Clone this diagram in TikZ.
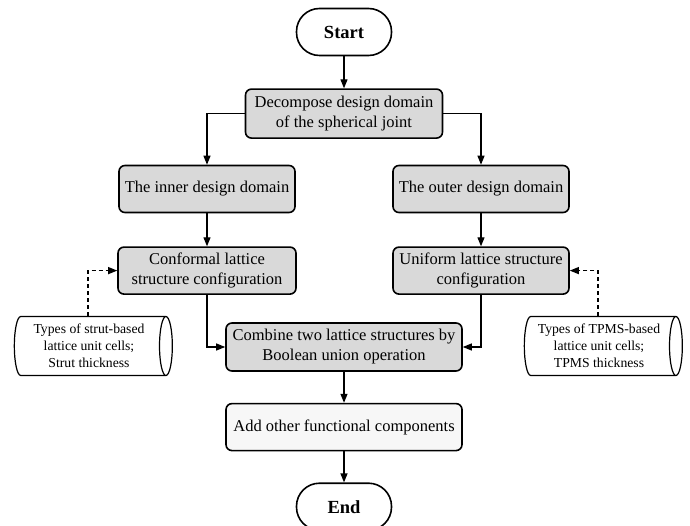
\documentclass[tikz,border=0pt]{standalone}
\usepackage{fontspec}
\setmainfont{Liberation Serif}
\usetikzlibrary{arrows.meta,positioning,shapes.geometric,calc}
\definecolor{boxgray}{HTML}{D9D9D9}
\definecolor{boxlight}{HTML}{F7F7F7}

\begin{document}
\begin{tikzpicture}[
  x=1pt, y=-1pt,
  every node/.style={font=\fontsize{16.5}{20}\selectfont},
  term/.style={rectangle, rounded corners=23pt, draw, line width=1.6pt, minimum width=95pt, minimum height=47pt, font=\fontsize{18.5}{22}\selectfont\bfseries},
  stepbox/.style={rectangle, rounded corners=6pt, draw, line width=1.6pt, fill=boxgray, minimum height=47pt, align=center, inner sep=2pt},
  store/.style={cylinder, draw, line width=1.2pt, aspect=0.28, minimum width=59pt, minimum height=158pt, align=center, inner sep=1pt, font=\fontsize{13.7}{17}\selectfont},
  flow/.style={-{Triangle[length=9pt, width=7pt]}, line width=1.2pt},
  feed/.style={flow, dashed, dash pattern=on 4pt off 3pt},
]
\useasboundingbox (0,0) rectangle (690,526);

% Main column
\node[term] (start) at (344,32) {Start};
\node[stepbox, minimum width=197pt, minimum height=49pt, below=32pt of start] (decomp) {Decompose design domain\\of the spherical joint};

% Two design domains
\node[stepbox, minimum width=176pt] (inner) at (207,189) {The inner design domain};
\node[stepbox, minimum width=176pt] (outer) at (481,189) {The outer design domain};
\node[stepbox, minimum width=178pt, below=33pt of inner] (conf) {Conformal lattice\\structure configuration};
\node[stepbox, minimum width=176pt, below=33pt of outer] (unif) {Uniform lattice structure\\configuration};

% Merge and finish
\node[stepbox, minimum width=236pt, minimum height=48pt] (comb) at (344,347) {Combine two lattice structures by\\Boolean union operation};
\node[stepbox, fill=boxlight, minimum width=236pt, below=31pt of comb] (add) {Add other functional components};
\node[term, below=31pt of add] (end) {End};

% Parameter inputs
\node[store] (cylL) at (89,346) {Types of strut-based\\lattice unit cells;\\Strut thickness};
\node[store] (cylR) at (599,346) {Types of TPMS-based\\lattice unit cells;\\TPMS thickness};

% Connectors
\draw[flow] (start) -- (decomp);
\draw[flow] (decomp.west) -| (inner.north);
\draw[flow] (decomp.east) -| (outer.north);
\draw[flow] (inner) -- (conf);
\draw[flow] (outer) -- (unif);
\draw[flow] (conf.south) |- (comb.west);
\draw[flow] (unif.south) |- (comb.east);
\draw[flow] (comb) -- (add);
\draw[flow] (add) -- (end);
\draw[feed] ([xshift=-1pt]cylL.north) |- (conf.west);
\draw[feed] ([xshift=-1pt]cylR.north) |- (unif.east);

\end{tikzpicture}
\end{document}
